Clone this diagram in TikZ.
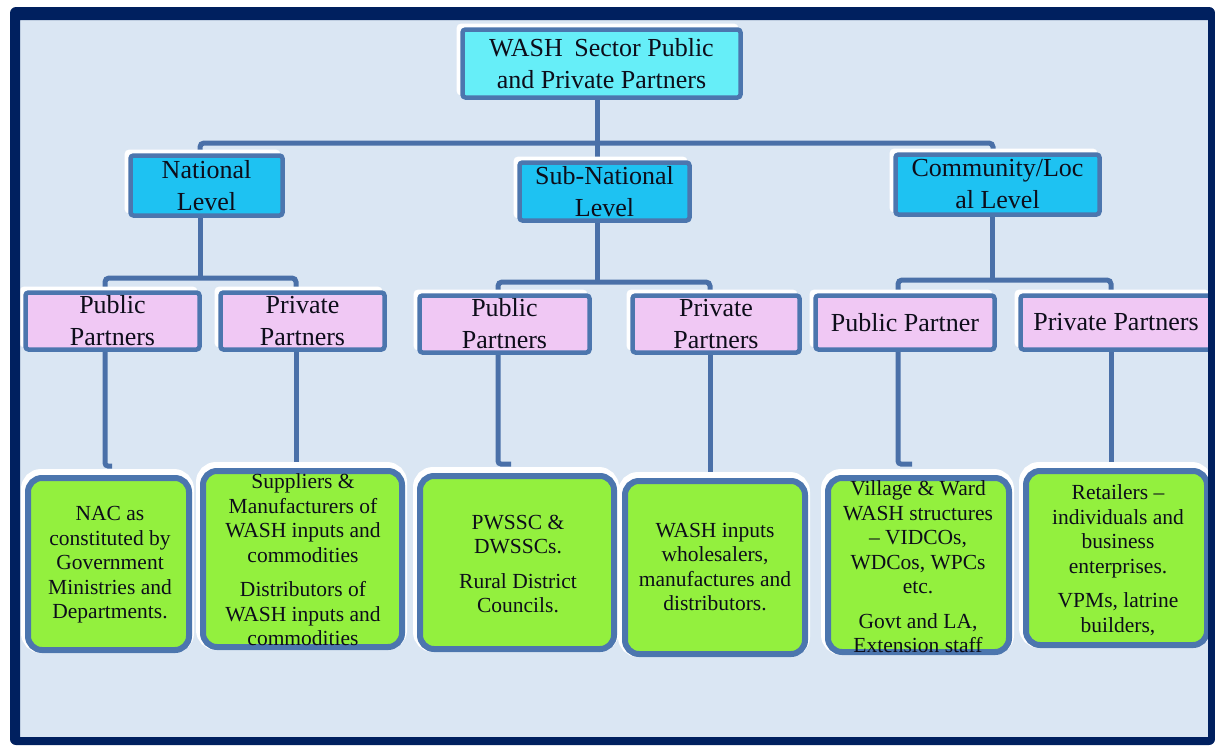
\documentclass[tikz,border=0pt]{standalone}
\usepackage{fontspec}
\setmainfont{Liberation Serif}
\usetikzlibrary{backgrounds}
\definecolor{navy}{HTML}{00205F}
\definecolor{bgblue}{HTML}{DAE6F3}
\definecolor{rootfill}{HTML}{66EEF8}
\definecolor{levelfill}{HTML}{1EC2F2}
\definecolor{pinkfill}{HTML}{F0C8F4}
\definecolor{greenfill}{HTML}{93F03E}
\definecolor{edgeblue}{HTML}{4C76AE}
\definecolor{lineblue}{HTML}{4A70A8}
\definecolor{txt}{HTML}{0D0D1A}
\begin{document}
\begin{tikzpicture}[x=1pt,y=-1pt,
  conn/.style={draw=lineblue, line width=5pt},
  topbox/.style={draw=edgeblue, line width=4.5pt, rounded corners=3pt, inner sep=0pt,
    align=center, text=txt, font=\fontsize{26}{32}\selectfont,
    preaction={fill=white, draw=white, line width=4pt, transform canvas={shift={(-4,-4)}}}},
  rootbox/.style={topbox, fill=rootfill},
  levelbox/.style={topbox, fill=levelfill},
  partbox/.style={topbox, fill=pinkfill},
  gbox/.style={draw=edgeblue, line width=6pt, rounded corners=14pt, inner sep=0pt, fill=greenfill,
    preaction={draw=white, line width=12pt, transform canvas={shift={(-1,-3)}}}},
  gtext/.style={align=center, inner sep=0pt, text=txt, font=\fontsize{21.5}{24.5}\selectfont}]
\useasboundingbox (0,0) rectangle (1215,745);

% top boxes
\node[rootbox, minimum width=278pt, minimum height=68pt] (root) at (601.5,63.5)
  {WASH\hspace{5pt} Sector Public\\and Private Partners};
\node[levelbox, minimum width=152pt, minimum height=60pt] (nat) at (206.5,185.5) {National\\Level};
\node[levelbox, minimum width=170pt, minimum height=58pt] (sub) at (604.5,191.5) {Sub-National\\Level};
\node[levelbox, minimum width=204pt, minimum height=60pt] (com) at (997.5,184.5) {Community/Loc\\al Level};

\node[partbox, minimum width=174pt, minimum height=57pt] (np) at (112.5,321) {Public\\Partners};
\node[partbox, minimum width=164pt, minimum height=57pt] (nv) at (302.5,321) {Private\\Partners};
\node[partbox, minimum width=170pt, minimum height=57pt] (sp) at (504.5,324) {Public\\Partners};
\node[partbox, minimum width=167pt, minimum height=57pt] (sv) at (716,324) {Private\\Partners};
\node[partbox, minimum width=179pt, minimum height=54pt] (cp) at (905,322.5) {Public Partner};
\node[partbox, minimum width=191pt, minimum height=54pt] (cv) at (1116,322.5) {Private Partners};

% green boxes
\node[gbox, minimum width=161pt, minimum height=172pt] (g1) at (108.5,564) {};
\node[gbox, minimum width=199pt, minimum height=176pt] (g2) at (302.5,559) {};
\node[gbox, minimum width=194pt, minimum height=173pt] (g3) at (517,562.5) {};
\node[gbox, minimum width=180pt, minimum height=173pt] (g4) at (715,567.5) {};
\node[gbox, minimum width=181pt, minimum height=174pt] (g5) at (918.5,565) {};
\node[gbox, minimum width=181pt, minimum height=174pt] (g6) at (1116.5,558) {};

\node[gtext] (t1) at (110,565) {NAC as\\constituted by\\Government\\Ministries and\\Departments.};
\node[gtext] (t2) at (303,560) {Suppliers \&\\Manufacturers of\\WASH inputs and\\commodities\\[10pt]Distributors of\\WASH inputs and\\commodities};
\node[gtext] (t3) at (518,564) {PWSSC \&\\DWSSCs.\\[10pt]Rural District\\Councils.};
\node[gtext] (t4) at (715,567) {WASH inputs\\wholesalers,\\manufactures and\\distributors.};
\node[gtext] (t5) at (918,567) {Village \& Ward\\WASH structures\\– VIDCOs,\\WDCos, WPCs\\etc.\\[10pt]Govt and LA,\\Extension staff};
\node[gtext] (t6) at (1118,560) {Retailers –\\individuals and\\business\\enterprises.\\[10pt]VPMs, latrine\\builders,};

% bus and hook coordinates
\coordinate (b1L) at (200,143);
\coordinate (b1M) at (597,143);
\coordinate (b1R) at (993,143);
\coordinate (b2N) at (200,278);
\coordinate (b2S) at (597,282);
\coordinate (b2C) at (992,280);
\coordinate (cNP) at (105,278);
\coordinate (cNV) at (296,278);
\coordinate (cSP) at (498,282);
\coordinate (cSV) at (710,282);
\coordinate (cCP) at (898,280);
\coordinate (cCV) at (1111,280);
\coordinate (hNP) at (105,466);
\coordinate (hSP) at (498,464);
\coordinate (hCP) at (898,464);
\coordinate (hCV) at (1111,462);

\begin{scope}[on background layer]
\fill[white] (0,0) rectangle (1215,745);
\fill[bgblue] (20,20) rectangle (1208,737);
% connectors
\draw[conn, rounded corners=4pt] (nat.north -| b1L) -- (b1L) -- (b1R) -- (com.north -| b1R);
\draw[conn] (root.south -| b1M) -- (sub.north -| b1M);
\draw[conn] (nat.south -| b2N) -- (b2N);
\draw[conn] (sub.south -| b2S) -- (b2S);
\draw[conn] (com.south -| b2C) -- (b2C);
\draw[conn, rounded corners=4pt] (np.north -| cNP) -- (cNP) -- (cNV) -- (nv.north -| cNV);
\draw[conn, rounded corners=4pt] (sp.north -| cSP) -- (cSP) -- (cSV) -- (sv.north -| cSV);
\draw[conn, rounded corners=4pt] (cp.north -| cCP) -- (cCP) -- (cCV) -- (cv.north -| cCV);
\draw[conn, rounded corners=3pt] (np.south -| hNP) -- (hNP) -- ++(7,0);
\draw[conn] (nv.south -| cNV) -- (g2.north -| cNV);
\draw[conn, rounded corners=3pt] (sp.south -| hSP) -- (hSP) -- ++(13,0);
\draw[conn] (sv.south -| cSV) -- (g4.north -| cSV);
\draw[conn, rounded corners=3pt] (cp.south -| hCP) -- (hCP) -- ++(14,0);
\draw[conn] (cv.south -| hCV) -- (hCV);
\end{scope}

% frame on top
\fill[navy, even odd rule] [rounded corners=6pt] (10,7) rectangle (1215,745) [sharp corners] (20,20) rectangle (1208,737);
\end{tikzpicture}
\end{document}
